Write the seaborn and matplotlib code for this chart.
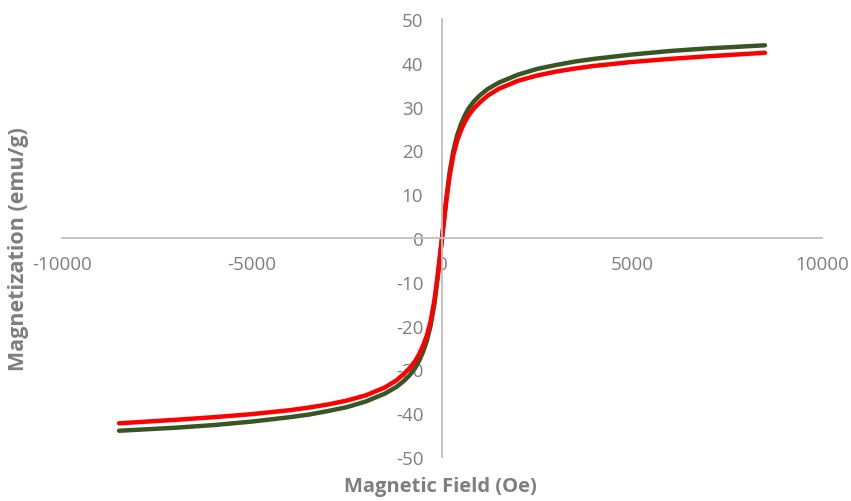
import matplotlib
matplotlib.use("Agg")
from matplotlib import pyplot as plt
import pandas as pd
import seaborn as sns

# applied field (Oe) and magnetization (emu/g)
field = [-8500, -7000, -6000, -5000, -4000, -3500, -3000, -2500, -2000, -1500,
         -1200, -1000, -850, -700, -600, -500, -400, -300, -200, -150,
         -100, -50, 0, 50, 100, 150, 200, 300, 400, 500,
         600, 700, 850, 1000, 1200, 1500, 2000, 2500, 3000, 3500,
         4000, 5000, 6000, 7000, 8500]
mag_green = [-44.0, -43.3, -42.7, -41.9, -40.9, -40.3, -39.5, -38.6, -37.3, -35.5,
             -34.0, -32.6, -31.3, -29.6, -28.0, -26.0, -23.5, -20.0, -15.0, -11.5,
             -8.0, -4.0, 0.0, 4.0, 8.0, 11.5, 15.0, 20.0, 23.5, 26.0,
             28.0, 29.6, 31.3, 32.6, 34.0, 35.5, 37.3, 38.6, 39.5, 40.3,
             40.9, 41.9, 42.7, 43.3, 44.0]
mag_red = [-42.3, -41.5, -40.9, -40.2, -39.3, -38.7, -38.0, -37.1, -35.9, -34.1,
           -32.5, -31.0, -29.7, -28.0, -26.5, -24.6, -22.3, -19.0, -14.2, -11.0,
           -7.5, -3.7, 0.0, 3.7, 7.5, 11.0, 14.2, 19.0, 22.3, 24.6,
           26.5, 28.0, 29.7, 31.0, 32.5, 34.1, 35.9, 37.1, 38.0, 38.7,
           39.3, 40.2, 40.9, 41.5, 42.3]

x_ticks = [-10000, -5000, 0, 5000, 10000]
y_ticks = [-50, -40, -30, -20, -10, 0, 10, 20, 30, 40, 50]

sns.set_style("white")
plt.rcParams["font.family"] = ["Open Sans", "DejaVu Sans"]
plt.rcParams["axes.unicode_minus"] = False

grey = "#7f7f7f"
axis_grey = "#bfbfbf"

fig = plt.figure(figsize=(8.51, 5.02), dpi=100)
ax = fig.add_axes([0.0729, 0.0876, 0.893, 0.8725])

df = pd.DataFrame({"field": field, "green": mag_green, "red": mag_red})
sns.lineplot(data=df, x="field", y="green", color="#375623", linewidth=3.2,
             sort=False, ax=ax)
sns.lineplot(data=df, x="field", y="red", color="#ff0000", linewidth=3.2,
             sort=False, ax=ax)

ax.set_xlim(-10000, 10000)
ax.set_ylim(-50, 50)
ax.set_xticks(x_ticks)
ax.set_yticks(y_ticks)

# axes cross at the origin, Excel style
ax.spines["left"].set_position(("data", 0))
ax.spines["bottom"].set_position(("data", 0))
ax.spines["right"].set_visible(False)
ax.spines["top"].set_visible(False)
for s in ["left", "bottom"]:
    ax.spines[s].set_color(axis_grey)
    ax.spines[s].set_linewidth(1.3)

ax.tick_params(axis="both", colors=axis_grey, labelcolor=grey, labelsize=13.5,
               direction="out", length=4.5, width=1.2)
ax.tick_params(axis="x", pad=8)
ax.tick_params(axis="y", pad=9)

ax.set_xlabel("")
ax.set_ylabel("")
fig.text(0.517, 0.03, "Magnetic Field (Oe)", ha="center", va="center",
         fontsize=14.5, fontweight="bold", color=grey)
fig.text(0.022, 0.504, "Magnetization (emu/g)", ha="center", va="center",
         rotation=90, fontsize=15.5, fontweight="bold", color=grey)

fig.savefig("out.png", dpi=100)
